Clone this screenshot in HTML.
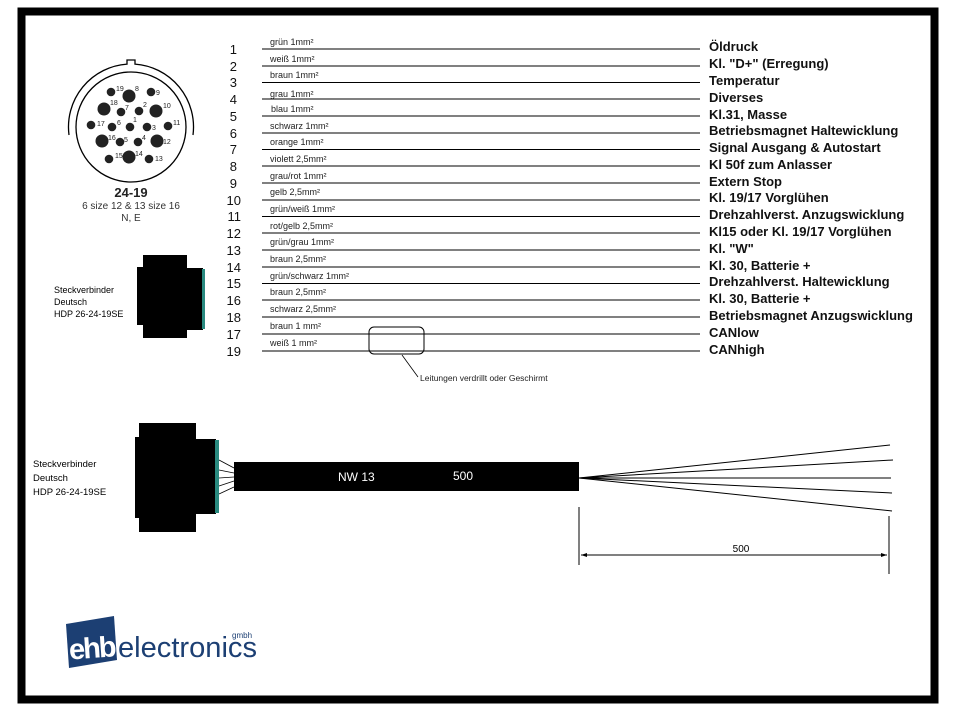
<!DOCTYPE html>
<html><head><meta charset="utf-8"><style>
html,body{margin:0;padding:0;background:#fff}
svg{display:block}
text{font-family:"Liberation Sans",Arial,sans-serif}
</style></head><body>
<svg width="956" height="713" viewBox="0 0 956 713" xmlns="http://www.w3.org/2000/svg">
<rect width="956" height="713" fill="#fff"/>
<rect x="21.5" y="11.5" width="913" height="688" fill="none" stroke="#000" stroke-width="8"/>

<!-- pin diagram -->
<g fill="none" stroke="#000" stroke-width="1.3">
<circle cx="131" cy="127" r="55"/>
<path d="M69,135 A63,63 0 0 1 127,64.1 L127,60 L135,60 L135,64.1 A63,63 0 0 1 193,135"/>
</g>
<g fill="#222">
<circle cx="111" cy="92" r="4.3"/><circle cx="129" cy="96" r="6.5"/><circle cx="151" cy="92" r="4.3"/>
<circle cx="104" cy="109" r="6.5"/><circle cx="121" cy="112" r="4.3"/><circle cx="139" cy="111" r="4.3"/><circle cx="156" cy="111" r="6.5"/>
<circle cx="91" cy="125" r="4.3"/><circle cx="112" cy="127" r="4.3"/><circle cx="130" cy="127" r="4.3"/><circle cx="147" cy="127" r="4.3"/><circle cx="168" cy="126" r="4.3"/>
<circle cx="102" cy="141" r="6.5"/><circle cx="120" cy="142" r="4.3"/><circle cx="138" cy="142" r="4.3"/><circle cx="157" cy="141" r="6.5"/>
<circle cx="109" cy="159" r="4.3"/><circle cx="129" cy="157" r="6.5"/><circle cx="149" cy="159" r="4.3"/>
</g>
<g font-size="7" fill="#222">
<text x="116" y="91">19</text><text x="135" y="91">8</text><text x="156" y="95">9</text>
<text x="110" y="105">18</text><text x="125" y="110">7</text><text x="143" y="107">2</text><text x="163" y="108">10</text>
<text x="97" y="126">17</text><text x="117" y="125">6</text><text x="133" y="122">1</text><text x="152" y="130">3</text><text x="173" y="125">11</text>
<text x="108" y="140">16</text><text x="124" y="142">5</text><text x="142" y="140">4</text><text x="163" y="144">12</text>
<text x="115" y="158">15</text><text x="135" y="156">14</text><text x="155" y="161">13</text>
</g>
<text x="131" y="197" font-size="13" font-weight="bold" text-anchor="middle" fill="#222">24-19</text>
<text x="131" y="209" font-size="10" text-anchor="middle" fill="#333">6 size 12 &amp; 13 size 16</text>
<text x="131" y="221" font-size="10" text-anchor="middle" fill="#333">N, E</text>

<!-- small connector -->
<g fill="#000">
<rect x="143" y="255" width="44" height="83"/>
<rect x="137" y="267" width="10" height="58"/>
<rect x="187" y="268" width="16" height="62"/>
</g>
<rect x="202" y="269" width="3" height="60" fill="#2a8a80"/>
<g font-size="9" fill="#000">
<text x="54" y="293">Steckverbinder</text><text x="54" y="305">Deutsch</text><text x="54" y="317">HDP 26-24-19SE</text>
</g>

<!-- wire table -->
<g stroke="#000" stroke-width="1">
<line x1="262" y1="49" x2="700" y2="49"/><line x1="262" y1="66" x2="700" y2="66"/>
<line x1="262" y1="82.5" x2="700" y2="82.5"/><line x1="262" y1="99" x2="700" y2="99"/>
<line x1="262" y1="116" x2="700" y2="116"/><line x1="262" y1="133" x2="700" y2="133"/>
<line x1="262" y1="149.5" x2="700" y2="149.5"/><line x1="262" y1="166" x2="700" y2="166"/>
<line x1="262" y1="183" x2="700" y2="183"/><line x1="262" y1="200" x2="700" y2="200"/>
<line x1="262" y1="216.5" x2="700" y2="216.5"/><line x1="262" y1="233" x2="700" y2="233"/>
<line x1="262" y1="250" x2="700" y2="250"/><line x1="262" y1="267" x2="700" y2="267"/>
<line x1="262" y1="283.5" x2="700" y2="283.5"/><line x1="262" y1="300" x2="700" y2="300"/>
<line x1="262" y1="317" x2="700" y2="317"/><line x1="262" y1="334" x2="700" y2="334"/>
<line x1="262" y1="351" x2="700" y2="351"/>
</g>
<g font-size="13" fill="#111" text-anchor="end">
<text x="237" y="54">1</text><text x="237" y="71">2</text><text x="237" y="87">3</text><text x="237" y="104">4</text>
<text x="237" y="121">5</text><text x="237" y="138">6</text><text x="237" y="154">7</text><text x="237" y="171">8</text>
<text x="237" y="188">9</text><text x="241" y="205">10</text><text x="241" y="221">11</text><text x="241" y="238">12</text>
<text x="241" y="255">13</text><text x="241" y="272">14</text><text x="241" y="288">15</text><text x="241" y="305">16</text>
<text x="241" y="322">18</text><text x="241" y="339">17</text><text x="241" y="356">19</text>
</g>
<g font-size="9" fill="#222">
<text x="270" y="45">grün 1mm²</text><text x="270" y="62">weiß 1mm²</text><text x="270" y="78">braun 1mm²</text>
<text x="270" y="97">grau 1mm²</text><text x="271" y="112">blau 1mm²</text><text x="270" y="129">schwarz 1mm²</text>
<text x="270" y="145">orange 1mm²</text><text x="270" y="162">violett 2,5mm²</text><text x="270" y="179">grau/rot 1mm²</text>
<text x="270" y="195">gelb 2,5mm²</text><text x="270" y="212">grün/weiß 1mm²</text><text x="270" y="229">rot/gelb 2,5mm²</text>
<text x="270" y="245">grün/grau 1mm²</text><text x="270" y="262">braun 2,5mm²</text><text x="270" y="279">grün/schwarz 1mm²</text>
<text x="270" y="295">braun 2,5mm²</text><text x="270" y="312">schwarz 2,5mm²</text><text x="270" y="329">braun 1 mm²</text>
<text x="270" y="346">weiß 1 mm²</text>
</g>
<g font-size="13" font-weight="bold" fill="#111">
<text x="709" y="51">Öldruck</text><text x="709" y="68">Kl. "D+" (Erregung)</text><text x="709" y="85">Temperatur</text>
<text x="709" y="102">Diverses</text><text x="709" y="119">Kl.31, Masse</text><text x="709" y="135">Betriebsmagnet Haltewicklung</text>
<text x="709" y="152">Signal Ausgang &amp; Autostart</text><text x="709" y="169">Kl 50f zum Anlasser</text><text x="709" y="186">Extern Stop</text>
<text x="709" y="202">Kl. 19/17 Vorglühen</text><text x="709" y="219">Drehzahlverst. Anzugswicklung</text><text x="709" y="236">Kl15 oder Kl. 19/17 Vorglühen</text>
<text x="709" y="253">Kl. "W"</text><text x="709" y="270">Kl. 30, Batterie +</text><text x="709" y="286">Drehzahlverst. Haltewicklung</text>
<text x="709" y="303">Kl. 30, Batterie +</text><text x="709" y="320">Betriebsmagnet Anzugswicklung</text>
<text x="709" y="337">CANlow</text><text x="709" y="354">CANhigh</text>
</g>
<rect x="369" y="327" width="55" height="27" rx="5" fill="none" stroke="#000" stroke-width="1"/>
<line x1="402" y1="355" x2="418" y2="377" stroke="#000" stroke-width="0.8"/>
<text x="420" y="381" font-size="8.5" fill="#222">Leitungen verdrillt oder Geschirmt</text>

<!-- big connector -->
<g fill="#000">
<rect x="139" y="423" width="57" height="109"/>
<rect x="135" y="437" width="8" height="81"/>
<rect x="196" y="439" width="20" height="75"/>
</g>
<rect x="215" y="440" width="4" height="73" fill="#2a8a80"/>
<g stroke="#000" stroke-width="0.8">
<line x1="219" y1="460" x2="234" y2="468"/><line x1="219" y1="470" x2="234" y2="473"/>
<line x1="219" y1="478" x2="234" y2="477"/><line x1="219" y1="486" x2="234" y2="481"/>
<line x1="219" y1="494" x2="234" y2="487"/>
</g>
<g font-size="9.5" fill="#000">
<text x="33" y="467">Steckverbinder</text><text x="33" y="481">Deutsch</text><text x="33" y="495">HDP 26-24-19SE</text>
</g>
<rect x="234" y="462" width="345" height="29" fill="#000"/>
<text x="338" y="481" font-size="12" fill="#fff">NW 13</text>
<text x="453" y="480" font-size="12" fill="#fff">500</text>

<!-- fan -->
<g stroke="#000" stroke-width="1">
<line x1="579" y1="478" x2="890" y2="445"/><line x1="579" y1="478" x2="893" y2="460"/>
<line x1="579" y1="478" x2="891" y2="478"/><line x1="579" y1="478" x2="892" y2="493"/>
<line x1="579" y1="478" x2="892" y2="511"/>
<line x1="579" y1="507" x2="579" y2="565"/><line x1="889" y1="516" x2="889" y2="574"/>
<line x1="581" y1="555" x2="887" y2="555"/>
</g>
<path d="M581,555 L587,553 L587,557 Z M887,555 L881,553 L881,557 Z" fill="#000"/>
<text x="741" y="552" font-size="10" fill="#000" text-anchor="middle">500</text>

<!-- logo -->
<path d="M66,624 L114,616 L117,660 L69,668 Z" fill="#1c3f73"/>
<text x="69" y="658" font-size="29" font-weight="bold" fill="#fff" letter-spacing="-2" transform="rotate(-4 90 650)">ehb</text>
<text x="118" y="657" font-size="29" fill="#1c3f73" textLength="139" lengthAdjust="spacingAndGlyphs">electronics</text>
<text x="232" y="638" font-size="8" fill="#1c3f73">gmbh</text>
</svg>
</body></html>
